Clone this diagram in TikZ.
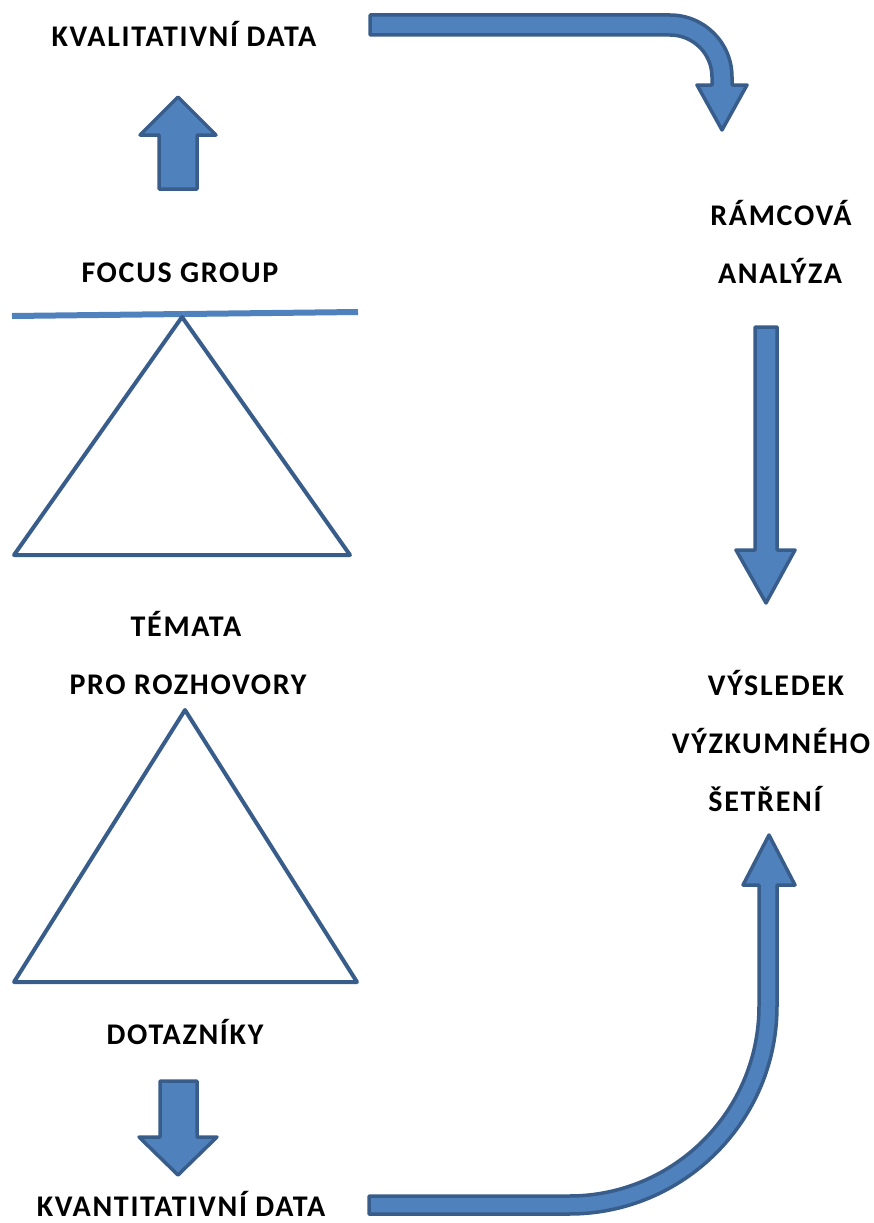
\documentclass[tikz,border=0pt]{standalone}
\usepackage{fontspec}
\setmainfont{Carlito}
\newfontfamily\lblfont{Carlito}[LetterSpace=5.6]
\definecolor{afill}{HTML}{4F81BD}
\definecolor{aline}{HTML}{385D8A}
\begin{document}
\begin{tikzpicture}[x=1pt,y=-1pt,
  lbl/.style={anchor=base,inner sep=0pt,font=\lblfont\fontsize{30}{36}\selectfont\bfseries},
  blockarrow/.style={fill=afill,draw=aline,line width=3.5pt,line join=round},
  tri/.style={draw=aline,line width=4pt,line join=round},
  bar/.style={draw=afill,line width=6pt}]
\useasboundingbox (0,0) rectangle (874,1223);
% labels
\node[lbl] (kval) at (184,47) {KVALITATIVNÍ DATA};
\node[lbl] (focus) at (180,282) {FOCUS GROUP};
\node[lbl] (temata) at (186,636) {TÉMATA};
\node[lbl] (pro) at (188,694) {PRO ROZHOVORY};
\node[lbl] (dotaz) at (185,1044) {DOTAZNÍKY};
\node[lbl] (kvant) at (181,1216) {KVANTITATIVNÍ DATA};
\node[lbl] (ramc) at (781,225) {RÁMCOVÁ};
\node[lbl] (anal) at (780,283) {ANALÝZA};
\node[lbl] (vys) at (776,695) {VÝSLEDEK};
\node[lbl] (vyz) at (771,753) {VÝZKUMNÉHO};
\node[lbl] (set) at (765,811) {ŠETŘENÍ};
% bar and triangles
\draw[bar] (12,316) -- (358,312);
\draw[tri] (182,317) -- (350,555) -- (14,555) -- cycle;
\draw[tri] (185,710) -- (357,982) -- (14,982) -- cycle;
% up arrow (focus group -> qualitative data)
\draw[blockarrow] (159,189) -- (159,135) -- (140,135) -- (178,97) -- (216,135) -- (197,135) -- (197,189) -- cycle;
% down arrow (questionnaires -> quantitative data)
\draw[blockarrow] (160,1081) -- (197,1081) -- (197,1137) -- (217,1137) -- (178,1175) -- (139,1137) -- (160,1137) -- cycle;
% bent arrow top
\draw[blockarrow] (370,15) -- (670,15) arc(-90:0:62) -- (732,85) -- (747,85) -- (722,130) -- (697,85) -- (712,85) -- (712,77) arc(0:-90:42) -- (370,35) -- cycle;
% right vertical arrow
\draw[blockarrow] (755,327) -- (777,327) -- (777,550) -- (795,550) -- (766,603) -- (736,550) -- (755,550) -- cycle;
% bent arrow bottom
\draw[blockarrow] (369,1196) -- (569,1196) arc(90:0:190) -- (759,885) -- (743,885) -- (769,835) -- (795,885) -- (777,885) -- (777,1006) arc(0:90:208) -- (369,1214) -- cycle;
\end{tikzpicture}
\end{document}
